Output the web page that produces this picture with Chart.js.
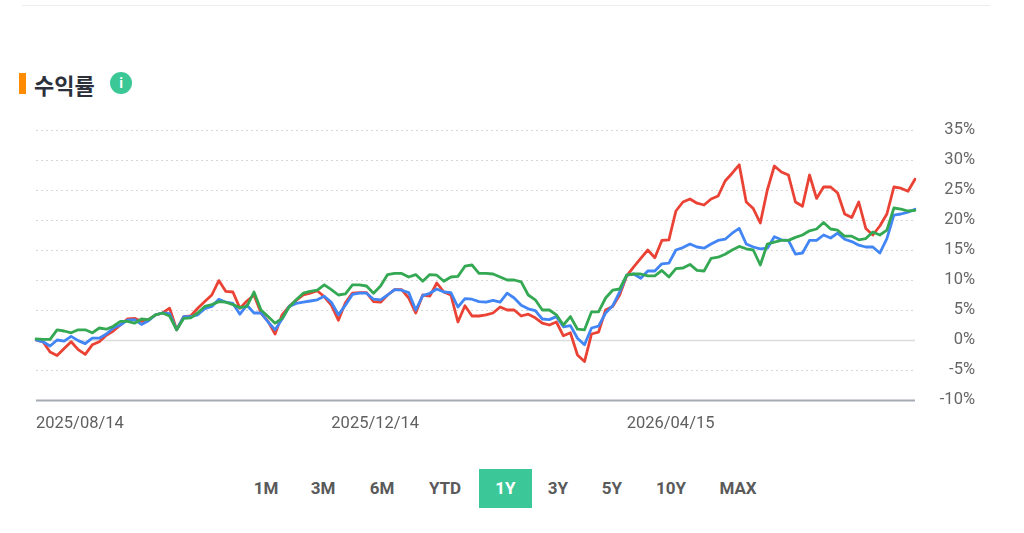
<!DOCTYPE html>
<html><head><meta charset="utf-8">
<script src="https://cdn.jsdelivr.net/npm/chart.js@4.4.1/dist/chart.umd.min.js"></script>
<style>
html,body{margin:0;padding:0;background:#fff;width:1024px;height:533px;overflow:hidden;font-family:Roboto,"Noto Sans",sans-serif;}
#topline{position:absolute;left:22px;top:5px;width:968px;height:1px;background:#ececec;}
#bar{position:absolute;left:19px;top:73px;width:7px;height:21px;background:#ff8c00;}
#title{position:absolute;left:34px;top:69px;font:bold 22px "Noto Sans CJK KR",sans-serif;color:#2b303b;line-height:30px;}
#info{position:absolute;left:110px;top:72px;width:22px;height:22px;border-radius:50%;background:#3cc796;color:#fff;font:bold 14px Roboto,sans-serif;text-align:center;line-height:22px;}
#wrap{position:absolute;left:0;top:110px;width:1024px;height:330px;}
.btn{position:absolute;top:488px;transform:translate(-50%,-50%);font:bold 17px Roboto,sans-serif;color:#5a5a5a;}
#sel{position:absolute;left:479px;top:469px;width:53px;height:39px;background:#3cc799;color:#fff;font:bold 17px Roboto,sans-serif;text-align:center;line-height:39px;}
</style></head>
<body>
<div id="topline"></div>
<div id="bar"></div>
<div id="title">수익률</div>
<div id="info">i</div>
<div id="wrap"><canvas id="c" width="1024" height="330"></canvas></div>
<span class="btn" style="left:266px">1M</span>
<span class="btn" style="left:323px">3M</span>
<span class="btn" style="left:382px">6M</span>
<span class="btn" style="left:445px">YTD</span>
<div id="sel">1Y</div>
<span class="btn" style="left:558px">3Y</span>
<span class="btn" style="left:612px">5Y</span>
<span class="btn" style="left:671px">10Y</span>
<span class="btn" style="left:738px">MAX</span>
<script>
const tickLabels = ['2025/08/14', '2025/12/14', '2026/04/15'];
const tickIndex = [0, 42, 84];
const yTicks = [-10, -5, 0, 5, 10, 15, 20, 25, 30, 35];

const redSeries = [
 0,-0.3,-2.0,-2.6,-1.4,-0.3,-1.6,-2.4,-0.8,-0.3,
 0.8,1.5,2.5,3.5,3.6,3.1,3.4,4.2,4.5,5.3,
 1.7,3.9,4.0,5.3,6.4,7.5,9.9,8.1,8.0,5.3,
 6.5,7.5,4.5,3.1,1.0,4.2,5.6,6.6,7.5,7.8,
 8.2,7.2,5.8,3.3,6.2,7.8,7.9,7.9,6.4,6.3,
 7.5,8.4,8.4,7.0,4.5,7.5,7.3,9.5,8.0,7.5,
 3.0,5.7,4.0,4.0,4.2,4.5,5.5,5.0,5.0,4.0,
 4.3,3.7,2.8,2.5,3.0,0.7,1.2,-2.5,-3.6,1.0,
 1.3,5.0,5.6,7.5,10.7,12.2,13.6,15.0,13.7,16.6,
 16.7,21.5,23.0,23.5,22.8,22.5,23.5,24.0,26.5,27.8,
 29.2,23.0,21.9,19.5,25.0,29.0,28.0,27.5,23.0,22.3,
 27.5,23.6,25.5,25.5,24.5,21.0,20.4,23.0,18.6,17.5,
 19.0,21.0,25.5,25.3,24.8,26.8
];
const blueSeries = [
 0,-0.3,-1.0,0.0,-0.2,0.6,-0.1,-0.6,0.3,0.3,
 1.0,2.0,2.5,3.3,3.4,2.6,3.2,4.2,4.5,4.4,
 1.7,3.9,3.9,4.2,5.2,5.6,6.8,6.3,6.1,4.3,
 5.8,4.5,4.5,3.0,1.7,3.5,5.6,6.1,6.3,6.5,
 6.7,7.3,6.3,4.2,5.8,7.6,7.8,7.8,6.8,6.7,
 7.5,8.4,8.3,7.9,5.0,7.4,7.8,8.5,8.0,7.9,
 5.5,6.9,6.8,6.4,6.3,6.6,6.3,7.8,7.0,5.8,
 5.2,4.9,3.5,3.4,3.9,2.2,2.4,0.3,-0.8,2.0,
 2.3,4.5,5.7,8.0,10.8,11.0,10.3,11.5,11.5,12.7,
 12.8,15.0,15.4,16.0,15.5,15.3,16.0,16.6,16.8,17.8,
 18.6,16.0,15.5,15.2,15.3,17.2,16.7,16.6,14.3,14.5,
 16.6,16.6,17.5,17.0,17.8,16.8,16.4,15.8,15.5,15.5,
 14.5,16.9,20.8,21.0,21.3,21.8
];
const greenSeries = [
 0.2,0.1,0.1,1.7,1.5,1.2,1.7,1.7,1.2,2.0,
 1.8,2.3,3.1,3.1,2.8,3.5,3.4,4.2,4.5,4.0,
 1.7,3.6,3.7,4.5,5.6,5.9,6.4,6.3,5.9,5.4,
 5.6,8.0,5.0,3.9,2.8,3.6,5.5,6.7,7.8,8.1,
 8.3,9.2,8.4,7.5,7.7,9.2,9.2,9.0,7.8,9.0,
 10.9,11.1,11.1,10.5,10.9,9.8,10.9,10.8,9.8,10.5,
 10.6,12.3,12.5,11.1,11.1,11.0,10.5,10.0,10.0,9.7,
 7.5,6.7,5.0,5.0,4.2,2.5,3.9,1.8,1.7,4.7,
 4.7,7.0,8.3,8.5,10.8,11.0,11.0,10.7,10.7,11.6,
 10.5,11.9,12.0,12.6,11.6,11.5,13.6,13.8,14.3,15.0,
 15.6,15.2,15.0,12.5,16.0,16.3,16.6,16.6,17.1,17.5,
 18.2,18.5,19.6,18.5,18.3,17.3,17.3,16.7,16.9,18.0,
 17.5,18.3,22.0,21.8,21.5,21.6
];

const categories = redSeries.map(() => '');
tickIndex.forEach((k, j) => { categories[k] = tickLabels[j]; });

const gridPlugin = {
  id: 'hgrid',
  beforeDatasetsDraw(chart) {
    const {ctx, chartArea, scales} = chart;
    const y = scales.y;
    ctx.save();
    yTicks.forEach(v => {
      const py = Math.round(y.getPixelForValue(v)) + 0.5;
      ctx.beginPath();
      if (v === -10) { ctx.setLineDash([]); ctx.strokeStyle = '#a4abb3'; ctx.lineWidth = 2; }
      else if (v === 0) { ctx.setLineDash([]); ctx.strokeStyle = '#dcdcdc'; ctx.lineWidth = 1.5; }
      else { ctx.setLineDash([2, 3]); ctx.strokeStyle = '#d6d6d6'; ctx.lineWidth = 1; }
      ctx.moveTo(chartArea.left, py);
      ctx.lineTo(chartArea.right, py);
      ctx.stroke();
    });
    ctx.restore();
  }
};

const ds = (data, color) => ({
  data, borderColor: color, backgroundColor: color, borderWidth: 2.8,
  pointRadius: 0, pointHoverRadius: 0, tension: 0, fill: false,
  borderJoinStyle: 'round', borderCapStyle: 'round'
});

new Chart(document.getElementById('c'), {
  type: 'line',
  data: {
    labels: categories,
    datasets: [
      ds(greenSeries, '#34a853'),
      ds(blueSeries, '#4285f4'),
      ds(redSeries, '#ea4335')
    ]
  },
  options: {
    responsive: false,
    animation: false,
    events: [],
    layout: { padding: { left: 36, right: 49, top: 20, bottom: 10 } },
    plugins: { legend: { display: false }, tooltip: { enabled: false } },
    scales: {
      x: {
        grid: { display: false, drawTicks: false },
        border: { display: false },
        ticks: {
          autoSkip: false, maxRotation: 0, align: 'start', padding: 14,
          color: '#5f5f5f', font: { family: 'Roboto', size: 16.5 },
          callback: (v, i) => categories[i]
        },
        afterFit: s => { s.height = 30; s.paddingLeft = 0; s.paddingRight = 0; }
      },
      y: {
        position: 'right',
        min: -10, max: 35,
        grid: { display: false, drawTicks: false },
        border: { display: false },
        ticks: {
          stepSize: 5, crossAlign: 'far', padding: 23,
          color: '#666', font: { family: 'Roboto', size: 16.5 },
          callback: v => v + '%'
        },
        afterFit: s => { s.width = 60; s.paddingTop = 0; s.paddingBottom = 0; }
      }
    }
  },
  plugins: [gridPlugin]
});
</script>
</body></html>
